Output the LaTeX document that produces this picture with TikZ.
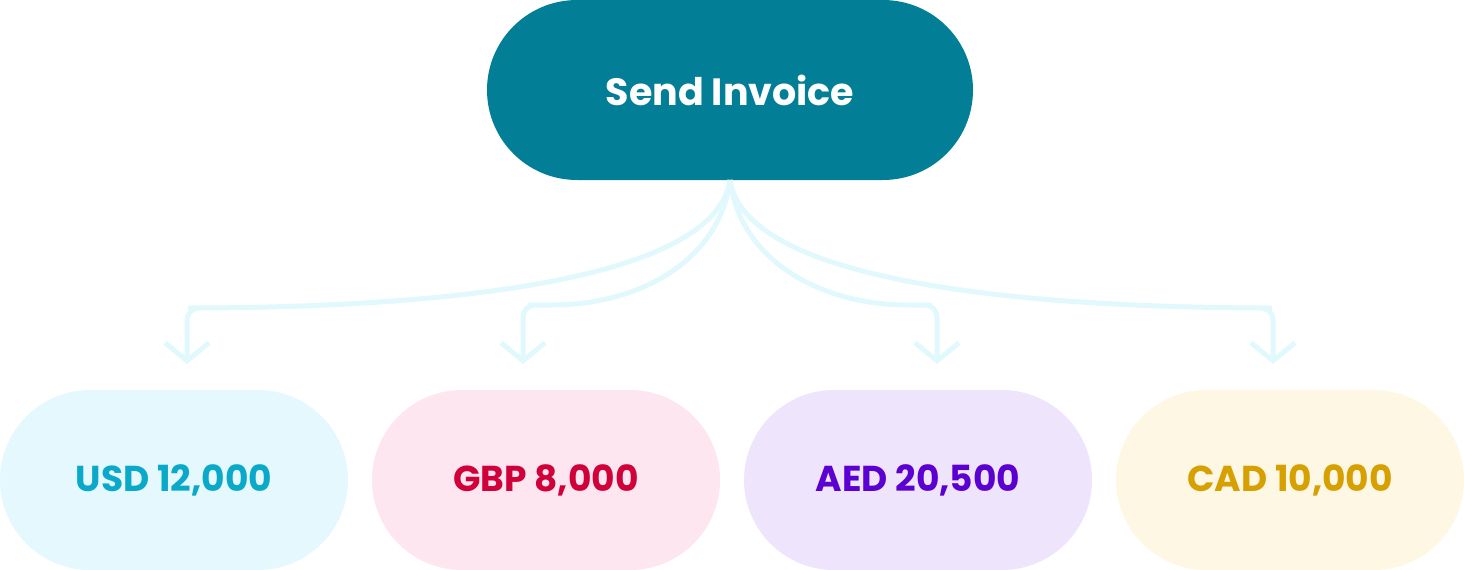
\documentclass[tikz,border=0pt]{standalone}
\usepackage{fontspec}
\setmainfont{Poppins}
\usetikzlibrary{arrows.meta}
\definecolor{topc}{HTML}{027F96}
\definecolor{arr}{HTML}{E1F8FD}
\definecolor{f1}{HTML}{E4F8FD}\definecolor{t1}{HTML}{0AA9C9}
\definecolor{f2}{HTML}{FDE6EF}\definecolor{t2}{HTML}{D0003A}
\definecolor{f3}{HTML}{EEE4FC}\definecolor{t3}{HTML}{5B00D0}
\definecolor{f4}{HTML}{FEF7E4}\definecolor{t4}{HTML}{D6A000}
\begin{document}
\begin{tikzpicture}[x=1pt,y=-1pt,
 pill/.style={rounded corners=90pt,minimum width=348pt,minimum height=180pt,inner sep=0pt,font=\fontsize{36}{40}\selectfont\bfseries},
 conn/.style={draw=arr,line width=5pt,rounded corners=12pt,-{Straight Barb[length=18pt,width=44pt,line width=5pt]}}]
\useasboundingbox (0,0) rectangle (1464,570);
\node[pill,fill=topc,text=white,minimum width=486pt,font=\fontsize{38}{42}\selectfont\bfseries] (top) at (730,90) {Send Invoice};
\node[pill,fill=f1,text=t1] (a) at (174,480) {USD 12,000};
\node[pill,fill=f2,text=t2] (b) at (546,480) {GBP 8,000};
\node[pill,fill=f3,text=t3] (c) at (918,480) {AED 20,500};
\node[pill,fill=f4,text=t4] (d) at (1290,480) {CAD 10,000};
\coordinate (s) at (730,180);
\coordinate (ea) at (187,364);\coordinate (eb) at (523,364);
\coordinate (ec) at (937,364);\coordinate (ed) at (1273,364);
\draw[conn] (s) .. controls (715,280) and (450,306) .. (200,308) -- (187,308) -- (ea);
\draw[conn] (s) .. controls (720,260) and (640,305) .. (540,305) -- (523,305) -- (eb);
\draw[conn] (s) .. controls (740,260) and (820,305) .. (920,305) -- (937,305) -- (ec);
\draw[conn] (s) .. controls (745,280) and (1010,306) .. (1260,308) -- (1273,308) -- (ed);
\end{tikzpicture}
\end{document}
